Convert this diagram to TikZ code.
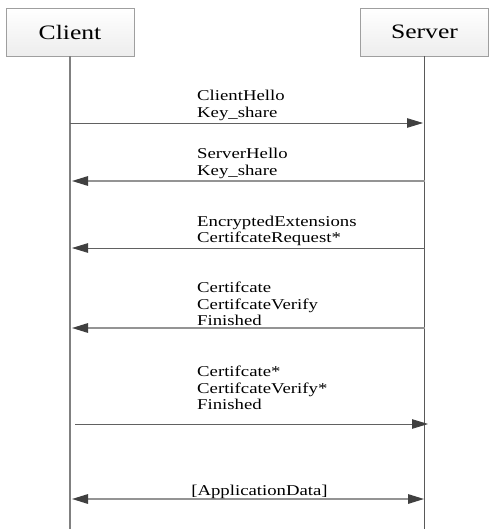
\documentclass[tikz,border=0pt]{standalone}
\usepackage{fontspec}
\setmainfont{Liberation Serif}[FakeStretch=1.25]
\usetikzlibrary{arrows.meta,shadows}
\begin{document}
\begin{tikzpicture}[x=1pt,y=-1pt,
  actor/.style={draw=gray!75, top color=white, bottom color=gray!14,
    minimum width=128pt, minimum height=48pt, inner sep=0pt,
    font=\fontsize{20.5}{24}\selectfont,
    drop shadow={shadow xshift=1pt,shadow yshift=-1pt,fill=gray!55,opacity=1}},
  life/.style={draw=black!50, line width=1.5pt},
  msg/.style={draw=black!62, line width=0.8pt},
  msgb/.style={draw=black!42, line width=1.5pt},
  tip/.style={-{Triangle[length=16pt,width=9.5pt]}, arrows={[fill=black!75,color=black!75]}},
  lbl/.style={anchor=south west, inner sep=0pt, align=left, text depth=0pt,
    font=\fontsize{15}{16.8}\selectfont}]
\useasboundingbox (0,0) rectangle (488,529);
\node[actor] (client) at (70,32) {Client};
\node[actor] (server) at (424.5,32) {Server};
\coordinate (cend) at (70,529);
\coordinate (send) at (424.5,529);
\draw[life] (client.south) -- (cend);
\draw[life, draw=black!65, line width=1pt] (server.south) -- (send);
% message 1
\coordinate (c1) at (70,123); \coordinate (s1) at (423,123);
\draw[msg,tip] (c1) -- (s1);
\node[lbl] (m1) at (197,118) {ClientHello\\Key\_share};
% message 2
\coordinate (c2) at (72,181); \coordinate (s2) at (425,181);
\draw[msgb,tip] (s2) -- (c2);
\node[lbl] (m2) at (197,176) {ServerHello\\Key\_share};
% message 3
\coordinate (c3) at (72,248); \coordinate (s3) at (425,248);
\draw[msg,tip] (s3) -- (c3);
\node[lbl] (m3) at (197,243) {EncryptedExtensions\\CertifcateRequest*};
% message 4
\coordinate (c4) at (72,328); \coordinate (s4) at (425,328);
\draw[msgb,tip] (s4) -- (c4);
\node[lbl] (m4) at (197,326) {Certifcate\\CertifcateVerify\\Finished};
% message 5
\coordinate (c5) at (75,424); \coordinate (s5) at (428,424);
\draw[msg,tip] (c5) -- (s5);
\node[lbl] (m5) at (197,410) {Certifcate*\\CertifcateVerify*\\Finished};
% message 6
\coordinate (c6) at (72,499); \coordinate (s6) at (424,499);
\draw[msgb,tip,{Triangle[length=16pt,width=9.5pt]}-{Triangle[length=16pt,width=9.5pt]}] (c6) -- (s6);
\node[lbl, anchor=south, text depth=0pt] (m6) at (259.5,496) {[ApplicationData]};
\end{tikzpicture}
\end{document}
